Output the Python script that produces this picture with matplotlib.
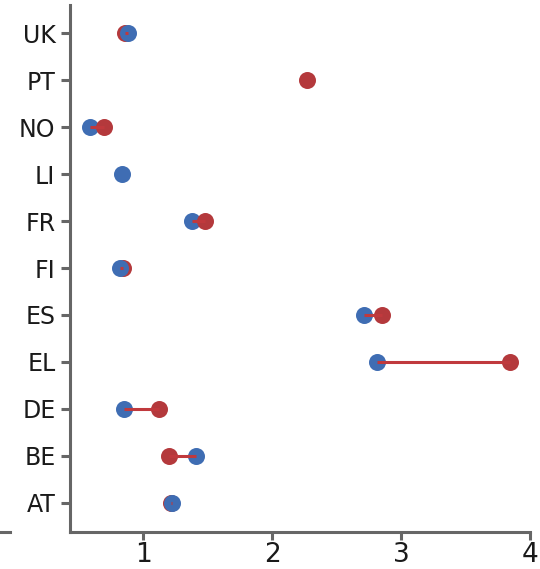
import matplotlib
matplotlib.use("Agg")
import matplotlib.pyplot as plt
from matplotlib.lines import Line2D
import numpy as np

countries = ["AT", "BE", "DE", "EL", "ES", "FI", "FR", "LI", "NO", "PT", "UK"]
blue_vals = [1.225, 1.406, 0.850, 2.812, 2.711, 0.819, 1.380, 0.837, 0.587, np.nan, 0.884]
red_vals = [1.212, 1.202, 1.124, 3.848, 2.853, 0.845, 1.478, np.nan, 0.698, 2.274, 0.862]
x_ticks = [1, 2, 3, 4]

BLUE = "#3f6db3"
RED = "#b4393c"
LINE_RED = "#c0393d"
AX = "#666666"

fig = plt.figure(figsize=(5.4, 5.69), dpi=100)
ax = fig.add_axes([70/540, 1-532/569, 460/540, 527/569])

ypos = np.arange(len(countries))
for y, b, r in zip(ypos, blue_vals, red_vals):
    blue_top = (not np.isnan(b) and not np.isnan(r) and abs(b - r) < 0.05)
    if not np.isnan(r):
        ax.scatter([r], [y], s=150, color=RED, zorder=3 if not blue_top else 2, linewidths=0)
    if not np.isnan(b):
        ax.scatter([b], [y], s=150, color=BLUE, zorder=2 if not blue_top else 3, linewidths=0)
    if not np.isnan(b) and not np.isnan(r):
        ax.plot([b, r], [y, y], color=LINE_RED, lw=2.2, zorder=4, solid_capstyle="butt")

ax.set_xlim(0.432, 4.0)
ax.set_ylim(-0.62, len(countries) - 1 + 0.6)
ax.set_yticks(ypos)
ax.set_yticklabels(countries)
ax.set_xticks(x_ticks)
ax.set_xticklabels([str(t) for t in x_ticks])

for s in ["top", "right"]:
    ax.spines[s].set_visible(False)
for s in ["left", "bottom"]:
    ax.spines[s].set_color(AX)
    ax.spines[s].set_linewidth(2.2)
    ax.spines[s].set_capstyle("projecting")
ax.tick_params(axis="y", length=6.5, width=2.2, color=AX, labelsize=17, labelcolor="#1a1a1a", pad=4)
ax.tick_params(axis="x", length=6, width=2.2, color=AX, labelsize=19, labelcolor="#1a1a1a", pad=1)

fig.add_artist(Line2D([0, 10/540], [1-532/569, 1-532/569], color=AX, lw=2.2,
                      transform=fig.transFigure))

fig.savefig("out.png", dpi=100, facecolor="white")
